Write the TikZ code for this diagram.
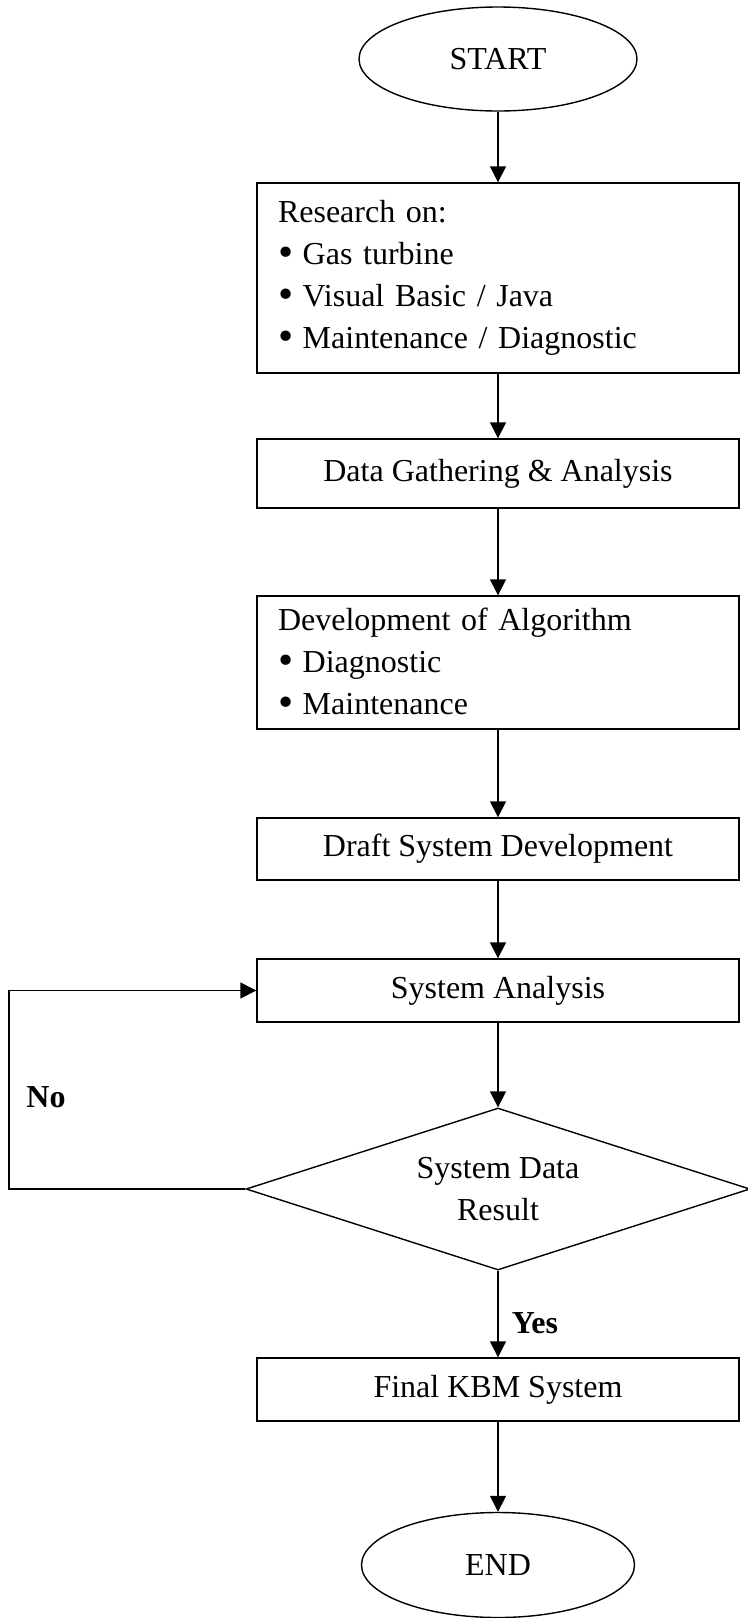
\documentclass[tikz,border=0pt]{standalone}
\usepackage{fontspec}
\setmainfont{Liberation Serif}
\usetikzlibrary{shapes.geometric,arrows.meta}
\newcommand{\bul}{\raisebox{-0.15ex}{\scalebox{1.35}{\textbullet}}\hspace{0.3em}}

\begin{document}
\begin{tikzpicture}[x=0.5pt,y=-0.5pt,line width=0.7pt,
	every node/.style={font=\fontsize{16pt}{21pt}\selectfont},
	term/.style={draw,ellipse,minimum width=139pt,minimum height=52pt,inner sep=0pt},
	stepbox/.style={draw,rectangle,minimum width=241pt,inner sep=0pt},
	listbox/.style={draw,rectangle,text width=220pt,inner xsep=10.5pt,inner ysep=0pt,align=left},
	decide/.style={draw,diamond,shape aspect=3.1,minimum width=252pt,minimum height=81pt,inner sep=0pt,align=center},
	flow/.style={-{Triangle[length=8pt,width=8pt]}}]
		\useasboundingbox (0,0) rectangle (748,1618);
		% Start
		\node[term] (start) at (498,59) {START};
		% Research
		\node[listbox,minimum height=95pt] (research) at (498,278) {Research on:\\ \bul Gas turbine\\ \bul Visual Basic / Java\\ \bul Maintenance / Diagnostic};
		\node[stepbox,minimum height=34.5pt] (data) at (498,473.5) {Data Gathering \& Analysis};
		\node[listbox,minimum height=66.5pt] (algo) at (498,662.5) {Development of Algorithm\\ \bul Diagnostic\\ \bul Maintenance};
		\node[stepbox,minimum height=31pt] (draft) at (498,849) {Draft System Development};
		\node[stepbox,minimum height=31.5pt] (sysan) at (498,990.5) {System Analysis};
		% Decision
		\node[decide] (result) at (498,1189) {System Data\\ Result};
		\node[stepbox,minimum height=31.5pt] (final) at (498,1389.5) {Final KBM System};
		\node[term,minimum width=136.5pt,minimum height=52.5pt] (end) at (498,1565) {END};
		% Arrows
		\draw[flow] (start) -- (research);
		\draw[flow] (research) -- (data);
		\draw[flow] (data) -- (algo);
		\draw[flow] (algo) -- (draft);
		\draw[flow] (draft) -- (sysan);
		\draw[flow] (sysan) -- (result);
		\draw[flow] (result) -- (final);
		\draw[flow] (final) -- (end);
		% No loop
		\coordinate (loop) at (9,1191);
		\draw[flow] (result.west) -- (result.west -| loop) |- (sysan.west);
		\node[font=\fontsize{16pt}{21pt}\selectfont\bfseries] (no) at (46,1097) {No};
		\node[font=\fontsize{16pt}{21pt}\selectfont\bfseries] (yes) at (535,1323) {Yes};
\end{tikzpicture}
\end{document}
